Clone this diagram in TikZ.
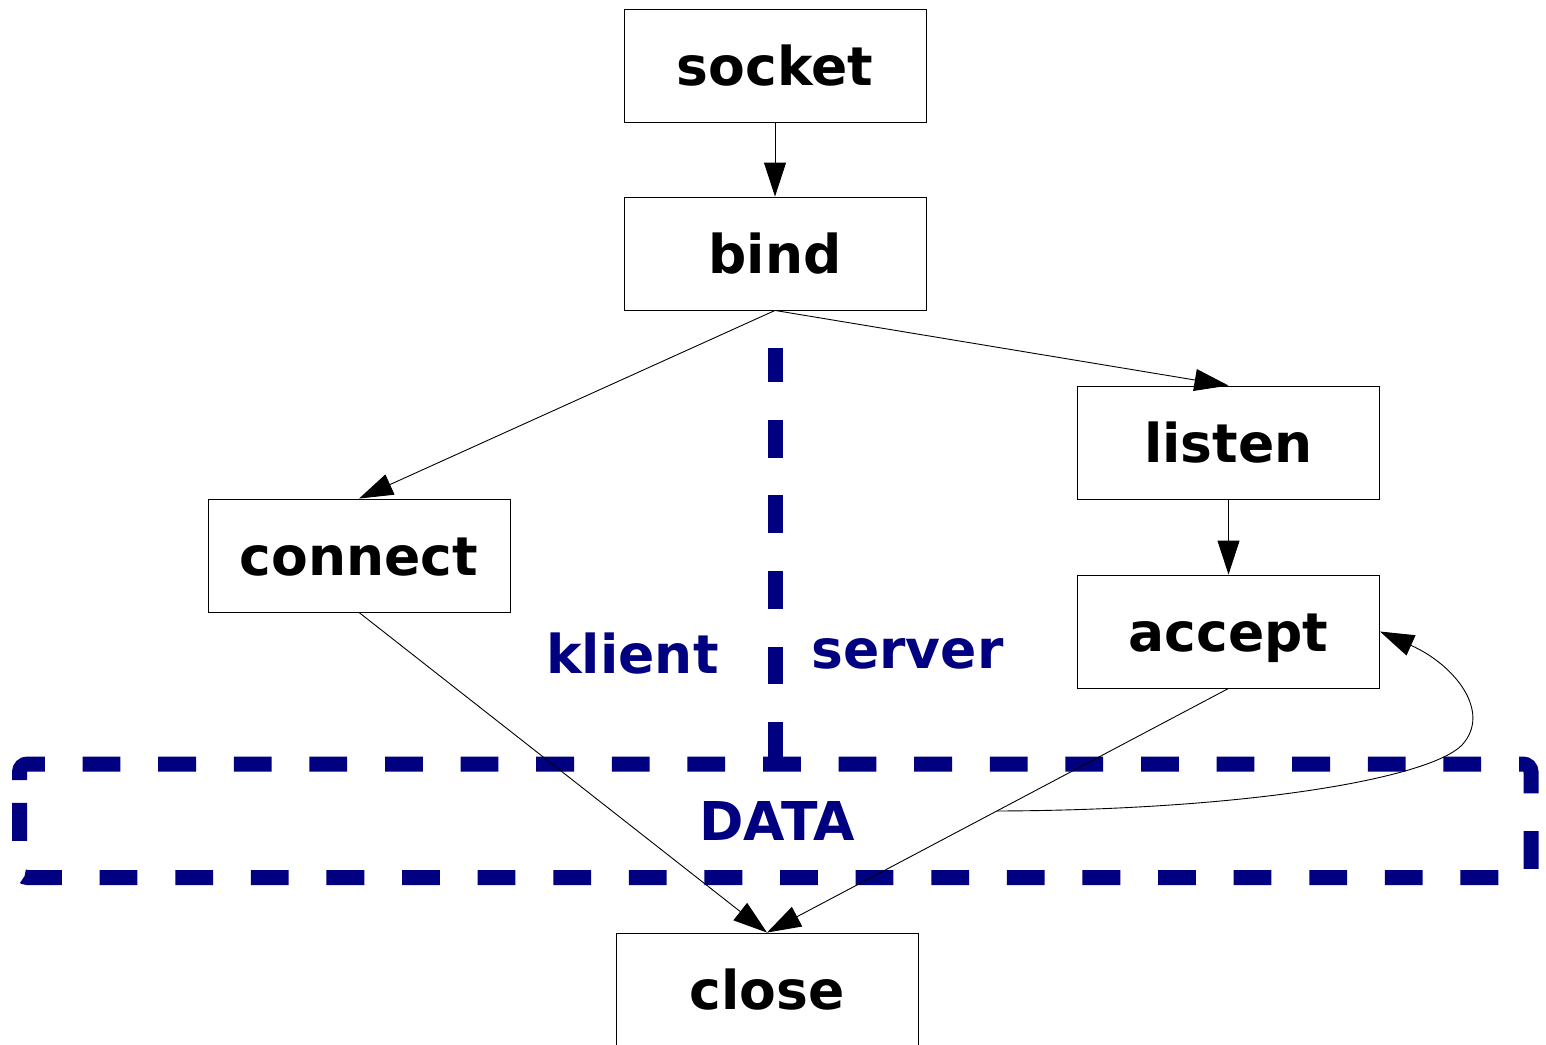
\documentclass[tikz,border=0pt]{standalone}
\usepackage{fontspec}
\setmainfont{DejaVu Sans}
\usetikzlibrary{arrows.meta}
\definecolor{navyc}{HTML}{000080}
\begin{document}
\begin{tikzpicture}[x=1pt,y=-1pt,
  box/.style={draw=black,line width=0.9pt,minimum width=302pt,minimum height=113pt,inner sep=0pt,
    font=\fontsize{53.5}{64}\selectfont\bfseries,text height=40.5pt,text depth=0pt},
  lbl/.style={text=navyc,font=\fontsize{53.5}{64}\selectfont\bfseries,inner sep=0pt,anchor=base},
  edge/.style={line width=0.9pt,-{Triangle[length=34pt,width=22pt]}},
  bigdash/.style={draw=navyc,line width=15pt,dash pattern=on 37.8pt off 37.8pt}]
\useasboundingbox (0,0) rectangle (1546,1044);
\clip (0,0) rectangle (1546,1044);
% cluster
\draw[bigdash,rounded corners=8pt] (19.5,788) -- (19.5,764) -- (1531,764) -- (1531,877.5) -- (19.5,877.5) -- cycle;
\coordinate (vtop) at (775,348);
\coordinate (vbot) at (775,760);
\draw[bigdash] (vbot) -- (vtop);
% nodes
\node[box] (socket) at (775,65.5) {socket};
\node[box] (bind) at (775,253.5) {bind};
\node[box] (listen) at (1228.5,442.5) {listen};
\node[box] (connect) at (359,555.5) {connect};
\node[box] (accept) at (1228.5,631.5) {accept};
\node[box] (close) at (767,989.5) {close};
% labels
\node[lbl] (klient) at (632.5,673) {klient};
\node[lbl] (server) at (907.5,668) {server};
\node[lbl] (data) at (777,840) {DATA};
% edges
\draw[edge] (socket.south) -- (bind.north);
\draw[edge] (bind.south) -- (connect.north);
\draw[edge] (bind.south) -- (listen.north);
\draw[edge] (listen.south) -- (accept.north);
\draw[edge] (connect.south) -- (close.north);
\draw[edge] (accept.south) -- (close.north);
\coordinate (dt) at (997,811);
\draw[edge] (dt) .. controls (1250,810) and (1430,778) .. (1462,745) .. controls (1492,712) and (1455,665) .. (accept.east);
\end{tikzpicture}
\end{document}
